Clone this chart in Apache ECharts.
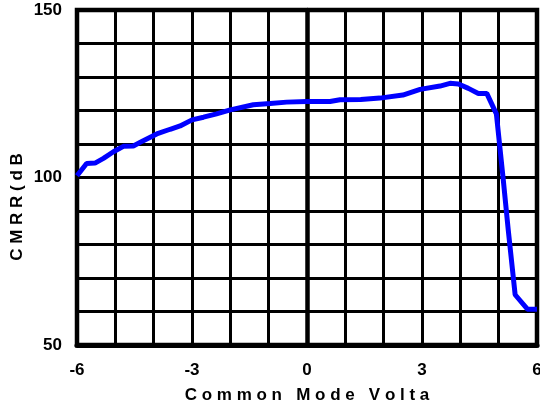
<!DOCTYPE html>
<html>
<head>
<meta charset="utf-8">
<script src="https://cdn.jsdelivr.net/npm/echarts@6/dist/echarts.min.js"></script>
<style>
  html, body { margin: 0; padding: 0; background: #fff; }
  #chart { width: 540px; height: 409px; }
</style>
</head>
<body>
<div id="chart"></div>
<script>
// common mode voltage (V)
const voltage = [-6, -5.75, -5.53, -5.31, -5.05, -4.79, -4.53, -4.27, -3.92, -3.57,
  -3.31, -3.0, -2.7, -2.36, -2.0, -1.4, -0.96, -0.53, 0, 0.6,
  0.86, 1.4, 1.9, 2.5, 2.95, 3.47, 3.73, 3.95, 4.21, 4.47,
  4.69, 4.94, 5.12, 5.25, 5.43, 5.75, 6.0];
// CMRR (dB)
const cmrr = [100.5, 104.2, 104.3, 105.7, 107.7, 109.3, 109.4, 111, 113, 114.4,
  115.4, 117.2, 118, 119, 120.2, 121.7, 122.1, 122.5, 122.7, 122.7,
  123.2, 123.3, 123.7, 124.6, 126.3, 127.3, 128.1, 127.9, 126.6, 125.1,
  125.1, 119, 99.3, 84.3, 65, 60.7, 60.7];

const xLabels = ['-6', '-3', '0', '3', '6'];
const yLabels = ['50', '100', '150'];

const font = 'Liberation Sans, Arial, sans-serif';

const chart = echarts.init(document.getElementById('chart'));

const option = {
  animation: false,
  grid: {
    left: 77, right: 3, top: 10, bottom: 64,
    outerBoundsMode: 'none',
    containLabel: false,
    show: true,
    borderColor: '#000',
    borderWidth: 4.5
  },
  xAxis: {
    type: 'value',
    min: -6, max: 6, interval: 1,
    name: 'C o m m o n   M o d e   V o l t a',
    nameLocation: 'middle',
    nameGap: 42,
    nameTextStyle: { fontFamily: font, fontWeight: 'bold', fontSize: 17, color: '#000' },
    axisLine: { show: true, lineStyle: { color: '#000', width: 5 } },
    axisTick: { show: false },
    axisLabel: {
      margin: 17,
      fontFamily: font, fontWeight: 'bold', fontSize: 17, color: '#000',
      formatter: v => xLabels.includes(String(v)) ? String(v) : ''
    },
    splitLine: { show: true, lineStyle: { color: '#000', width: 3 } }
  },
  yAxis: {
    type: 'value',
    min: 50, max: 150, interval: 10,
    axisLine: { show: true, lineStyle: { color: '#000', width: 4.5 } },
    axisTick: { show: false },
    axisLabel: {
      margin: 15,
      fontFamily: font, fontWeight: 'bold', fontSize: 17, color: '#000',
      formatter: v => yLabels.includes(String(v)) ? String(v) : ''
    },
    splitLine: { show: true, lineStyle: { color: '#000', width: 3 } }
  },
  graphic: [{
    type: 'text',
    x: 17, y: 207,
    rotation: Math.PI / 2,
    style: {
      text: 'C M R R ( d B',
      font: 'bold 17px ' + font,
      fill: '#000',
      textAlign: 'center',
      textVerticalAlign: 'middle'
    }
  }],
  series: [{
    type: 'line',
    data: voltage.map((v, i) => [v, cmrr[i]]),
    showSymbol: false,
    lineStyle: { color: '#0000ff', width: 5 },
    itemStyle: { color: '#0000ff' }
  }]
};

chart.setOption(option);
</script>
</body>
</html>
